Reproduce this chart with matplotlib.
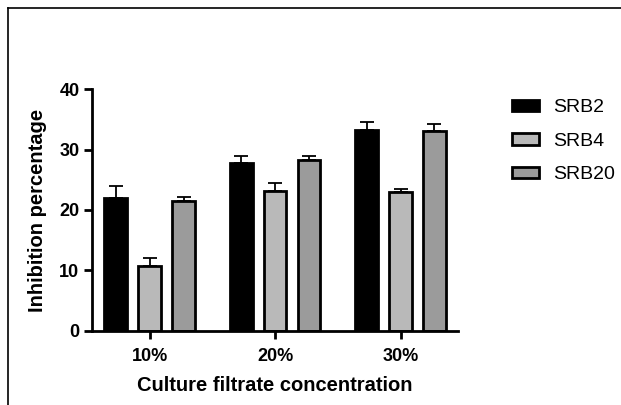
import numpy as np
import matplotlib.pyplot as plt
from matplotlib.lines import Line2D

plt.rcParams['font.family'] = ['Liberation Sans', 'DejaVu Sans']

concentrations = ['10%', '20%', '30%']
series = ['SRB2', 'SRB4', 'SRB20']
means = {
    'SRB2': [22.0, 27.7, 33.3],
    'SRB4': [10.8, 23.1, 23.0],
    'SRB20': [21.5, 28.3, 33.1],
}
errors = {
    'SRB2': [2.0, 1.2, 1.2],
    'SRB4': [1.3, 1.4, 0.5],
    'SRB20': [0.7, 0.6, 1.1],
}
colors = {'SRB2': '#000000', 'SRB4': '#b9b9b9', 'SRB20': '#9b9b9b'}

fig = plt.figure(figsize=(6.21, 4.05), dpi=100)
ax = fig.add_axes([0.148, 0.183, 0.59, 0.597])

x = np.arange(len(concentrations))
width = 0.18
offsets = [-0.27, 0, 0.27]
for s, off in zip(series, offsets):
    ax.bar(x + off, means[s], width, color=colors[s], edgecolor='black',
           linewidth=2, label=s, zorder=2)
    ax.errorbar(x + off, means[s], yerr=[np.zeros(3), errors[s]], fmt='none',
                ecolor='black', elinewidth=1.3, capsize=5, capthick=1.3, zorder=1)

ax.set_xlim(-0.46, 2.46)
ax.set_ylim(0, 40)
ax.set_yticks([0, 10, 20, 30, 40])
ax.set_xticks(x)
ax.set_xticklabels(concentrations)
for side in ['top', 'right']:
    ax.spines[side].set_visible(False)
for side in ['left', 'bottom']:
    ax.spines[side].set_linewidth(2)
ax.tick_params(width=2, length=6, labelsize=13, pad=3)
ax.tick_params(axis='x', pad=6)
for lab in ax.get_xticklabels() + ax.get_yticklabels():
    lab.set_fontweight('bold')
ax.set_xlabel('Culture filtrate concentration', fontsize=14.5, fontweight='bold', labelpad=8)
ax.set_ylabel('Inhibition percentage', fontsize=14.5, fontweight='bold', labelpad=9)

ax.legend(loc='upper left', bbox_to_anchor=(1.1, 1.03), frameon=False, fontsize=14,
          handlelength=1.35, handleheight=0.55, labelspacing=0.85, handletextpad=0.75)

# page border (top and left only)
fig.add_artist(Line2D([8 / 621, 1], [1 - 8 / 405, 1 - 8 / 405], color='black', lw=1.2,
                      transform=fig.transFigure))
fig.add_artist(Line2D([8 / 621, 8 / 621], [0, 1 - 8 / 405], color='black', lw=1.2,
                      transform=fig.transFigure))

fig.savefig('out.png', dpi=100)
